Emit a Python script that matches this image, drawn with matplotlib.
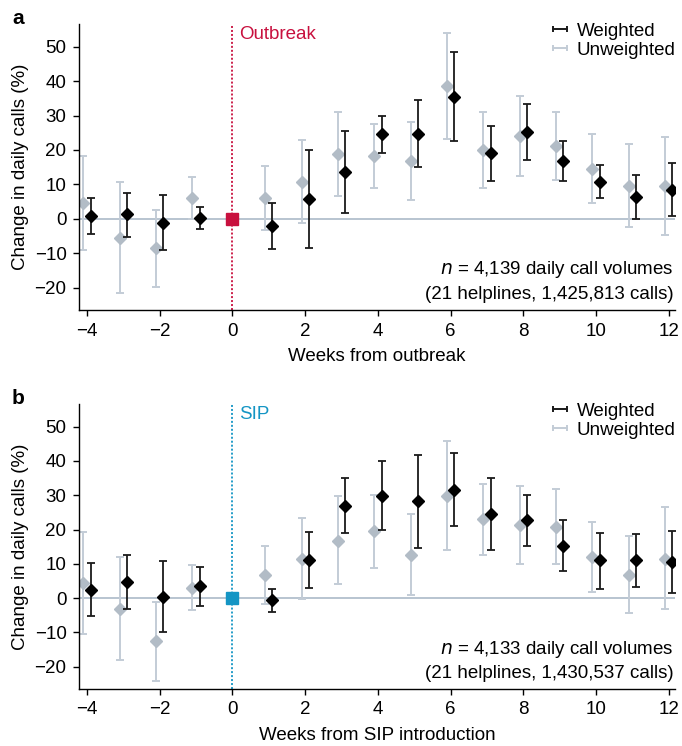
import numpy as np
import matplotlib
matplotlib.use("Agg")
from matplotlib import pyplot as plt
from matplotlib.lines import Line2D
from matplotlib.legend_handler import HandlerLine2D

plt.rcParams['font.family'] = ['Liberation Sans', 'DejaVu Sans']
plt.rcParams['font.size'] = 13.5

weeks = [-4, -3, -2, -1, 1, 2, 3, 4, 5, 6, 7, 8, 9, 10, 11, 12]

# panel a: weeks from outbreak
a_unw = [4.5, -5.5, -8.6, 5.9, 5.9, 10.8, 18.8, 18.2, 16.8, 38.6, 20.1, 24.1, 21.2, 14.5, 9.5, 9.5]
a_unw_lo = [-9.1, -21.7, -19.9, -0.2, -3.4, -1.3, 6.5, 9.0, 5.4, 23.1, 9.0, 12.4, 11.3, 4.5, -2.5, -4.7]
a_unw_hi = [18.2, 10.6, 2.6, 12.2, 15.2, 22.9, 31.1, 27.4, 28.2, 54.1, 31.1, 35.7, 31.1, 24.6, 21.6, 23.7]
a_w = [0.9, 1.3, -1.2, 0.2, -2.2, 5.7, 13.5, 24.5, 24.6, 35.5, 19.1, 25.3, 16.8, 10.7, 6.2, 8.5]
a_w_lo = [-4.4, -5.4, -9.2, -2.9, -8.8, -8.4, 1.7, 19.1, 15.1, 22.6, 11.0, 17.1, 11.0, 5.9, -0.2, 0.9]
a_w_hi = [6.1, 7.5, 6.9, 3.3, 4.5, 20.0, 25.5, 29.8, 34.4, 48.5, 27.0, 33.4, 22.7, 15.5, 12.7, 16.3]

# panel b: weeks from SIP introduction
b_unw = [4.3, -3.1, -12.5, 3.0, 6.6, 11.4, 16.6, 19.5, 12.7, 29.9, 23.0, 21.4, 20.8, 12.0, 6.8, 11.5]
b_unw_lo = [-10.6, -18.0, -24.1, -3.5, -1.8, -0.3, 4.0, 8.8, 0.9, 13.9, 12.7, 10.0, 9.9, 1.8, -4.4, -3.3]
b_unw_hi = [19.2, 12.0, -1.0, 9.6, 15.1, 23.5, 29.7, 30.1, 24.5, 45.8, 33.3, 32.8, 31.7, 22.1, 18.2, 26.5]
b_w = [2.5, 4.7, 0.2, 3.5, -0.6, 11.1, 27.0, 29.9, 28.2, 31.6, 24.6, 22.7, 15.3, 11.0, 11.0, 10.5]
b_w_lo = [-5.2, -3.2, -10.0, -2.3, -4.0, 3.0, 19.1, 19.8, 14.6, 21.0, 14.0, 15.2, 7.8, 2.8, 3.1, 1.5]
b_w_hi = [10.3, 12.7, 10.7, 9.1, 2.8, 19.3, 35.0, 39.9, 41.8, 42.2, 35.0, 30.1, 22.8, 19.0, 18.6, 19.7]

panels = [
    dict(tag='a', unw=a_unw, unw_lo=a_unw_lo, unw_hi=a_unw_hi, w=a_w, w_lo=a_w_lo, w_hi=a_w_hi,
         event='Outbreak', color='#c8103e', xlabel='Weeks from outbreak',
         note1=' = 4,139 daily call volumes', note2='(21 helplines, 1,425,813 calls)'),
    dict(tag='b', unw=b_unw, unw_lo=b_unw_lo, unw_hi=b_unw_hi, w=b_w, w_lo=b_w_lo, w_hi=b_w_hi,
         event='SIP', color='#1495c4', xlabel='Weeks from SIP introduction',
         note1=' = 4,133 daily call volumes', note2='(21 helplines, 1,430,537 calls)'),
]

unw_col = '#b2bcc6'
unw_err = '#c3ccd6'
w_col = '#000000'
w_err = '#1a1a1a'

fig = plt.figure(figsize=(6.82, 7.46), dpi=100)
W, H = 682, 746
ax_boxes = [(79, 24, 675, 310), (79, 404, 675, 689)]

for p, (x0, y0, x1, y1) in zip(panels, ax_boxes):
    ax = fig.add_axes([x0 / W, 1 - y1 / H, (x1 - x0) / W, (y1 - y0) / H])
    x = np.array(weeks, dtype=float)
    unw = np.array(p['unw']); w = np.array(p['w'])
    ax.axhline(0, color='#b8c4d0', lw=1.4, zorder=1)
    ax.axvline(0, color=p['color'], lw=1.3, ls=(0, (1.1, 1.1)), zorder=1)
    ax.errorbar(x - 0.1, unw, yerr=[unw - np.array(p['unw_lo']), np.array(p['unw_hi']) - unw],
                fmt='D', ms=6, color=unw_col, ecolor=unw_err, elinewidth=1.4, capsize=2.6,
                capthick=1.4, zorder=2)
    ax.errorbar(x + 0.1, w, yerr=[w - np.array(p['w_lo']), np.array(p['w_hi']) - w],
                fmt='D', ms=6, color=w_col, ecolor=w_err, elinewidth=1.3, capsize=2.6,
                capthick=1.3, zorder=3)
    ax.plot([0], [0], 's', ms=8, color=p['color'], zorder=4)

    ax.set_xlim(-4.22, 12.17)
    ax.set_ylim(-26.5, 56.6)
    ax.set_xticks([-4, -2, 0, 2, 4, 6, 8, 10, 12])
    ax.set_xticklabels(['\u22124', '\u22122', '0', '2', '4', '6', '8', '10', '12'])
    ax.set_yticks([-20, -10, 0, 10, 20, 30, 40, 50])
    ax.set_yticklabels(['\u221220', '\u221210', '0', '10', '20', '30', '40', '50'])
    for s in ['top', 'right']:
        ax.spines[s].set_visible(False)
    for s in ['left', 'bottom']:
        ax.spines[s].set_linewidth(1.0)
    ax.tick_params(direction='out', length=4, width=1.0, labelsize=13.5, pad=5)
    ax.set_xlabel(p['xlabel'], fontsize=13.5, labelpad=6)
    ax.set_ylabel('Change in daily calls (%)', fontsize=13.5, labelpad=4)

    ax.text(0.18, 53.6, p['event'], color=p['color'], fontsize=13.5, va='center', ha='left')

    ax.text(0.997, 0.14, r'$\it{n}$' + p['note1'], transform=ax.transAxes,
            ha='right', va='center', fontsize=13.5)
    ax.text(0.997, 0.055, p['note2'], transform=ax.transAxes,
            ha='right', va='center', fontsize=13.5)

    handles = [Line2D([], [], color=w_err, lw=1.4, marker='|', ms=5, mew=1.4),
               Line2D([], [], color=unw_err, lw=1.4, marker='|', ms=5, mew=1.4)]
    ax.legend(handles, ['Weighted', 'Unweighted'], loc='upper right', bbox_to_anchor=(1.02, 1.045),
              frameon=False, numpoints=2, handlelength=0.75, handletextpad=0.5,
              labelspacing=0.1, fontsize=13.5, borderaxespad=0.2,
              handler_map={Line2D: HandlerLine2D(marker_pad=0)})

    fig.text(12 / W, 1 - (y0 - 6) / H, p['tag'], fontsize=15, fontweight='bold', va='center')

fig.savefig('out.png', dpi=100)
